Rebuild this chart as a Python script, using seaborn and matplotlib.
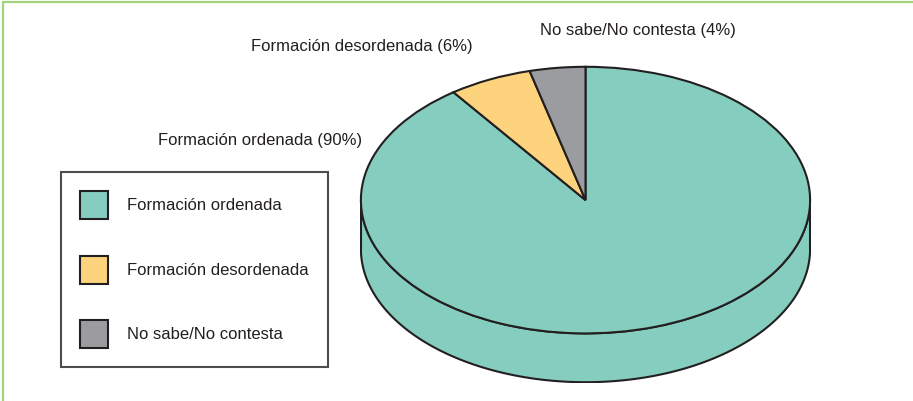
import matplotlib
matplotlib.use("Agg")
import matplotlib.pyplot as plt
import matplotlib.patches as mpatches
import numpy as np
import seaborn as sns

# ── Data ─────────────────────────────────────────────────────────────────────
categories = ["Formación ordenada", "Formación desordenada", "No sabe/No contesta"]
shares     = [90, 6, 4]
colors     = ["#85CEBF", "#FDD47D", "#9B9CA0"]

EDGE  = "#231F20"
GREEN = "#A3D47D"
W, H  = 913, 401

sns.set_theme(style="white")
plt.rcParams["font.family"] = ["Liberation Sans", "DejaVu Sans"]
palette = sns.color_palette(colors)

fig = plt.figure(figsize=(W / 100, H / 100), dpi=100)
fig.patch.set_facecolor("white")

def px(x0, y0, x1, y1):
    # pixel box (top-left origin) -> figure fraction rect
    return [x0 / W, 1 - y1 / H, (x1 - x0) / W, (y1 - y0) / H]

# ── Pie (squashed into an ellipse, with a side face for depth) ───────────────
depth = 0.366
ax = fig.add_axes(px(360, 66, 811, 383))
ax.pie(shares, colors=palette, startangle=90, counterclock=False,
       wedgeprops=dict(edgecolor=EDGE, linewidth=1.5, zorder=3))
ax.set_aspect("auto")
ax.set_xlim(-1.004, 1.004)
ax.set_ylim(-1 - depth - 0.006, 1.006)

t = np.linspace(np.pi, 2 * np.pi, 200)
side_x = np.concatenate([np.cos(t), np.cos(t[::-1])])
side_y = np.concatenate([np.sin(t), np.sin(t[::-1]) - depth])
ax.fill(side_x, side_y, facecolor=palette[0], edgecolor=EDGE,
        linewidth=1.5, zorder=1)
ax.plot([-1, -1], [0, -depth], color=EDGE, linewidth=1.5, zorder=2)
ax.plot([1, 1], [0, -depth], color=EDGE, linewidth=1.5, zorder=2)
ax.axis("off")

# ── Slice labels ─────────────────────────────────────────────────────────────
labels = [f"{c} ({s}%)" for c, s in zip(categories, shares)]
fig.text(362 / W, 1 - 140 / H, labels[0], ha="right", va="center",
         fontsize=12, color=EDGE)
fig.text(473 / W, 1 - 46 / H, labels[1], ha="right", va="center",
         fontsize=12, color=EDGE)
fig.text(540 / W, 1 - 31 / H, labels[2], ha="left", va="center",
         fontsize=12, color=EDGE)

# ── Legend ───────────────────────────────────────────────────────────────────
handles = [mpatches.Patch(facecolor=c, edgecolor=EDGE, linewidth=1.5)
           for c in palette]
leg = fig.legend(handles, categories, loc="upper left",
                 bbox_to_anchor=(61 / W, 1 - 172 / H), borderaxespad=0,
                 fontsize=12, handlelength=1.68, handleheight=2.21,
                 handletextpad=1.14, labelspacing=2.19, borderpad=1.14,
                 fancybox=False, frameon=True)
leg.get_frame().set_edgecolor(EDGE)
leg.get_frame().set_linewidth(1.5)
for txt in leg.get_texts():
    txt.set_color(EDGE)

# ── Green border (left and top) ──────────────────────────────────────────────
fig.add_artist(plt.Line2D([3 / W, 3 / W], [0, 1 - 2 / H], color=GREEN,
                          linewidth=1.6, transform=fig.transFigure))
fig.add_artist(plt.Line2D([3 / W, 1], [1 - 2 / H, 1 - 2 / H], color=GREEN,
                          linewidth=1.6, transform=fig.transFigure))

fig.savefig("out.png", dpi=100, facecolor="white")
